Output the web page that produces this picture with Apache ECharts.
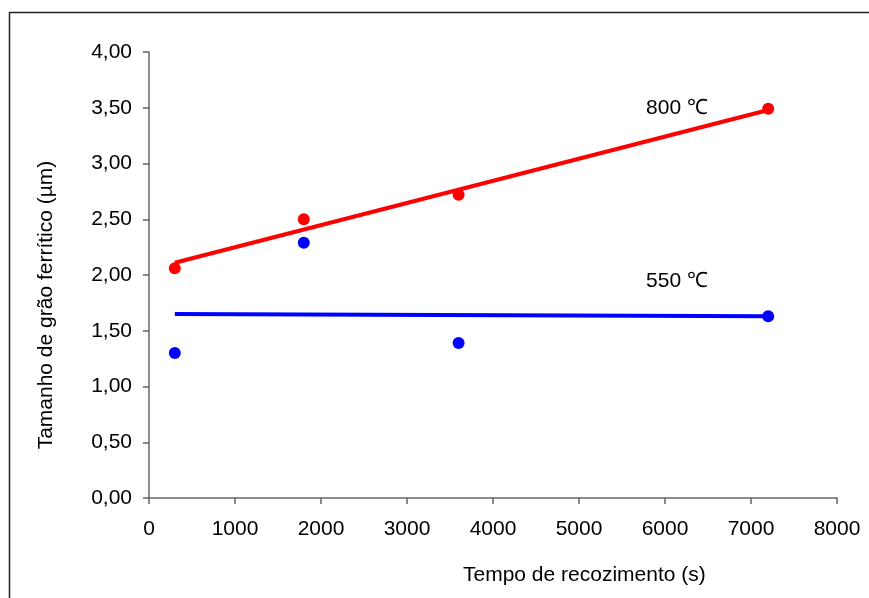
<!DOCTYPE html>
<html>
<head>
<meta charset="utf-8">
<script src="https://cdn.jsdelivr.net/npm/echarts@6/dist/echarts.min.js"></script>
<style>html,body{margin:0;padding:0;background:#fff}#c{width:869px;height:598px}</style>
</head>
<body>
<div id="c"></div>
<script>
// Data
const times = [300, 1800, 3600, 7200];
const grain800 = [2.06, 2.50, 2.72, 3.49];
const grain550 = [1.30, 2.29, 1.39, 1.63];
// Trend line end points
const trendX = [300, 7200];
const trend800 = [2.11, 3.48];
const trend550 = [1.65, 1.63];
// Annotations (data units)
const annText = ['800 ℃', '550 ℃'];
const annX = [6140, 6140];
const annY = [3.50, 1.94];

const xTitle = 'Tempo de recozimento (s)';
const yTitle = 'Tamanho de grão ferrítico (µm)';

const pairs = (xs, ys) => xs.map((x, i) => [x, ys[i]]);
const font = 'Liberation Sans, Arial, sans-serif';

const chart = echarts.init(document.getElementById('c'), null, {renderer: 'canvas'});
chart.setOption({
  backgroundColor: '#fff',
  animation: false,
  graphic: [{
    type: 'rect', z: 100,
    shape: {x: 9.5, y: 12.5, width: 900, height: 700},
    style: {fill: 'none', stroke: '#222', lineWidth: 1.5}
  }, {
    type: 'text', left: 463, top: 565,
    style: {text: xTitle, font: '21px ' + font, fill: '#000'}
  }, {
    type: 'text', x: 46, y: 305, rotation: Math.PI / 2,
    style: {text: yTitle, font: '21px ' + font, fill: '#000', align: 'center', verticalAlign: 'middle'}
  }],
  grid: {left: 149, right: 32, top: 52, bottom: 100, containLabel: false},
  xAxis: {
    type: 'value', min: 0, max: 8000, interval: 1000,
    axisLine: {show: true, lineStyle: {color: '#666', width: 1.5}},
    axisTick: {show: true, inside: false, length: 6, lineStyle: {color: '#666', width: 1.5}},
    splitLine: {show: false},
    axisLabel: {fontSize: 21, fontFamily: font, color: '#000', margin: 21,
      formatter: v => String(v)}
  },
  yAxis: {
    type: 'value', min: 0, max: 4, interval: 0.5,
    axisLine: {show: true, lineStyle: {color: '#666', width: 1.5}},
    axisTick: {show: true, inside: false, length: 6, lineStyle: {color: '#666', width: 1.5}},
    splitLine: {show: false},
    axisLabel: {fontSize: 21, fontFamily: font, color: '#000', margin: 17,
      formatter: v => v.toFixed(2).replace('.', ',')}
  },
  series: [
    {type: 'line', data: pairs(trendX, trend800), symbol: 'none', lineStyle: {color: '#ff0000', width: 4}, z: 2},
    {type: 'line', data: pairs(trendX, trend550), symbol: 'none', lineStyle: {color: '#0000ff', width: 4}, z: 2},
    {type: 'scatter', data: pairs(times, grain800), symbolSize: 12, itemStyle: {color: '#ff0000', opacity: 1}, z: 3},
    {type: 'scatter', data: pairs(times, grain550), symbolSize: 12, itemStyle: {color: '#0000ff', opacity: 1}, z: 3},
    {type: 'scatter', symbolSize: 0, z: 4, itemStyle: {opacity: 1},
      data: annText.map((t, i) => ({value: [annX[i], annY[i]], name: t})),
      label: {show: true, position: 'inside', formatter: p => p.name,
        fontSize: 21, fontFamily: font, color: '#000', opacity: 1}}
  ]
});
</script>
</body>
</html>
